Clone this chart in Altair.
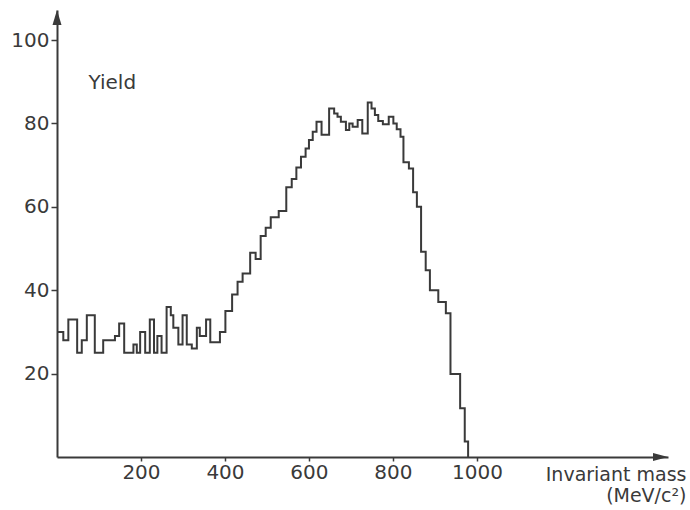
import altair as alt
import pandas as pd

# Histogram step edges (MeV/c^2) and yields
edges = [0, 15, 27, 48, 59, 71, 90, 110, 138, 148,
         160, 182, 190, 198, 210, 221, 231, 239, 249, 261,
         271, 277, 289, 299, 309, 321, 333, 340, 355, 365,
         388, 401, 417, 430, 442, 460, 473, 485, 497, 509,
         528, 546, 559, 570, 581, 592, 600, 609, 618, 630,
         648, 660, 668, 676, 688, 696, 704, 716, 727, 740,
         749, 757, 765, 776, 790, 801, 809, 818, 825, 838,
         848, 857, 867, 878, 888, 908, 926, 937, 960, 971,
         979]
yields = [30, 28, 33, 25, 28, 34, 25, 28, 29, 32,
          25, 27, 25, 30, 25, 33, 25, 29, 25, 36,
          34, 31, 27, 34, 27, 26, 31, 29, 33, 27.5,
          30, 35, 39, 42, 44, 49, 47.5, 53, 55, 57.5,
          59, 64.7, 66.7, 69.4, 72, 74, 76, 78, 80.4, 77.3,
          83.6, 82.4, 81.6, 80.4, 78.4, 80, 79.2, 80.8, 77.6, 85,
          83.6, 82, 80.6, 79.8, 81.6, 80, 78.6, 76.8, 70.7, 69.2,
          63.5, 60, 49.2, 44.8, 40, 37.2, 34.5, 19.9, 11.7, 3.7,
          0]

x_ticks = [200, 400, 600, 800, 1000]
y_ticks = [20, 40, 60, 80, 100]
X_MAX = 1455
Y_MAX = 107.2

INK = "#3a3a3a"
FONT = "DejaVu Sans"

df = pd.DataFrame({"mass": edges, "yield": yields})

xscale = alt.Scale(domain=[0, X_MAX], nice=False, zero=False)
yscale = alt.Scale(domain=[0, Y_MAX], nice=False, zero=False)

hist = alt.Chart(df).mark_line(
    interpolate="step-after", color=INK, strokeWidth=2, clip=False
).encode(
    x=alt.X("mass:Q", scale=xscale,
            axis=alt.Axis(values=x_ticks, format="d", tickSize=4, labelPadding=1,
                          title=["Invariant mass", "(MeV/c²)"],
                          titleAlign="right", titleX=629, titleY=8,
                          titleBaseline="top", titleLineHeight=21,
                          titleFontSize=19, titleAnchor="end")),
    y=alt.Y("yield:Q", scale=yscale,
            axis=alt.Axis(values=y_ticks, format="d", tickSize=6, labelPadding=2,
                          title="Yield", titleAngle=0, titleAlign="left",
                          titleBaseline="middle", titleX=31, titleY=72)),
)

arrow_up = alt.Chart(pd.DataFrame({"mass": [0], "yield": [Y_MAX]})).mark_point(
    shape="M0,0 L-0.45,1.5 L0.45,1.5 Z", size=400, filled=True,
    color=INK, opacity=1, strokeWidth=0
).encode(x=alt.X("mass:Q", scale=xscale), y=alt.Y("yield:Q", scale=yscale))

arrow_right = alt.Chart(pd.DataFrame({"mass": [X_MAX], "yield": [0]})).mark_point(
    shape="M0,0 L-1.5,-0.4 L-1.5,0.4 Z", size=400, filled=True,
    color=INK, opacity=1, strokeWidth=0
).encode(x=alt.X("mass:Q", scale=xscale), y=alt.Y("yield:Q", scale=yscale))

chart = alt.layer(hist, arrow_up, arrow_right).properties(
    width=611, height=447,
    autosize=alt.AutoSizeParams(type="none"),
    padding={"left": 57, "top": 10, "right": 22, "bottom": 53},
    background="white",
).configure_view(stroke=None).configure_axis(
    grid=False,
    domainColor=INK, domainWidth=2,
    tickColor=INK, tickWidth=1.5,
    labelFont=FONT, labelFontSize=20, labelColor=INK,
    titleFont=FONT, titleFontSize=20, titleColor=INK, titleFontWeight="normal",
)

chart.save("out.html", embed_options={"renderer": "svg", "actions": False})
